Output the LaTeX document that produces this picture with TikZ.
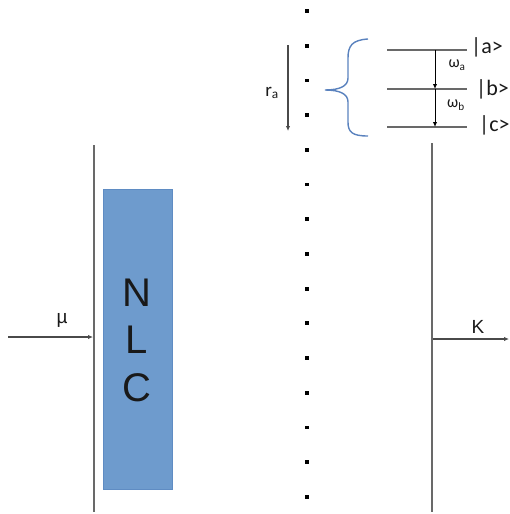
\documentclass[tikz,border=0pt]{standalone}
\usepackage{fontspec}
\setmainfont{Liberation Sans}
\newfontfamily\calib{Carlito}
\usetikzlibrary{arrows.meta}
\definecolor{boxblue}{RGB}{110,155,205}
\definecolor{boxedge}{RGB}{95,140,195}
\definecolor{bracecol}{RGB}{90,130,190}
\definecolor{linegray}{RGB}{105,105,105}
\definecolor{txt}{RGB}{25,25,25}
\tikzset{
  mirror/.style={draw=linegray, line width=2.2pt},
  beam/.style={draw=linegray!70!black, line width=1.4pt, -{Latex[length=5pt,width=4.5pt]}},
  level/.style={draw=linegray, line width=1.8pt},
  trans/.style={draw=black, line width=1pt, -{Latex[length=5pt,width=4.5pt]}},
  lbl/.style={text=txt, inner sep=0pt},
  atomdot/.style={rectangle, fill=black, inner sep=0pt, minimum size=3.8pt},
}
\begin{document}
\begin{tikzpicture}[x=1pt,y=-1pt]
\useasboundingbox (0,0) rectangle (509,514);
% mirrors
\coordinate (lmtop) at (94,145); \coordinate (lmbot) at (94,512);
\coordinate (rmtop) at (432,143); \coordinate (rmbot) at (432,512);
\draw[mirror] (lmtop) -- (lmbot);
\draw[mirror] (rmtop) -- (rmbot);
% NLC crystal
\node[draw=boxedge, fill=boxblue, line width=1pt, minimum width=69pt, minimum height=300pt, inner sep=0pt, anchor=north west] (nlc) at (103,189) {};
\node[lbl, font=\fontsize{40}{40}\selectfont] (n) at (137,293) {N};
\node[lbl, font=\fontsize{40}{40}\selectfont] (l) at (137,340) {L};
\node[lbl, font=\fontsize{40}{40}\selectfont] (c) at (137,388) {C};
% atom beam dots
\foreach \i in {0,...,14} {
  \node[atomdot] (d\i) at (307,{11+\i*34.7}) {};
}
% input beam
\coordinate (inL) at (8,337);
\coordinate (inR) at (93,337);
\draw[beam] (inL) -- (inR);
\node[lbl, font=\fontsize{19}{19}\selectfont] (mu) at (62,320) {\textmu};
% output
\coordinate (outL) at (433,339);
\coordinate (outR) at (509,339);
\draw[beam] (outL) -- (outR);
\node[lbl, font=\fontsize{19}{19}\selectfont] (K) at (478,327) {K};
% r_a arrow
\coordinate (raT) at (288,45);
\coordinate (raB) at (288,131);
\draw[beam, line width=1.2pt] (raT) -- (raB);
\node[lbl, font=\calib\fontsize{19}{19}\selectfont] (ra) at (272,93) {r\textsubscript{a}};
% brace
\coordinate (brT) at (368,39);
\coordinate (brTip) at (325,90);
\coordinate (brB) at (368,136);
\draw[bracecol, line width=1.4pt] (brT) .. controls (352,40) and (348,46) .. (348,58)
  -- (348,78) .. controls (348,86) and (340,90) .. (brTip)
  .. controls (340,90) and (348,94) .. (348,102)
  -- (348,122) .. controls (348,132) and (352,136) .. (brB);
% levels
\coordinate (aL) at (387,50); \coordinate (aR) at (467,50);
\coordinate (bL) at (387,89); \coordinate (bR) at (467,89);
\coordinate (cL) at (387,127); \coordinate (cR) at (467,127);
\draw[level] (aL) -- (aR);
\draw[level] (bL) -- (bR);
\draw[level] (cL) -- (cR);
\coordinate (ta) at (435,50); \coordinate (tb) at (435,89); \coordinate (tc) at (435,127);
\draw[trans] (ta) -- (tb);
\draw[trans] (tb) -- (tc);
\node[lbl, font=\calib\fontsize{22}{22}\selectfont, anchor=west] (ka) at (471,47) {|a>};
\node[lbl, font=\calib\fontsize{22}{22}\selectfont, anchor=west] (kb) at (476,89) {|b>};
\node[lbl, font=\calib\fontsize{22}{22}\selectfont, anchor=west] (kc) at (479,125) {|c>};
\node[lbl, font=\calib\fontsize{16}{16}\selectfont] (wa) at (457,65) {ω\textsubscript{a}};
\node[lbl, font=\calib\fontsize{16}{16}\selectfont] (wb) at (456,105) {ω\textsubscript{b}};
\end{tikzpicture}
\end{document}
